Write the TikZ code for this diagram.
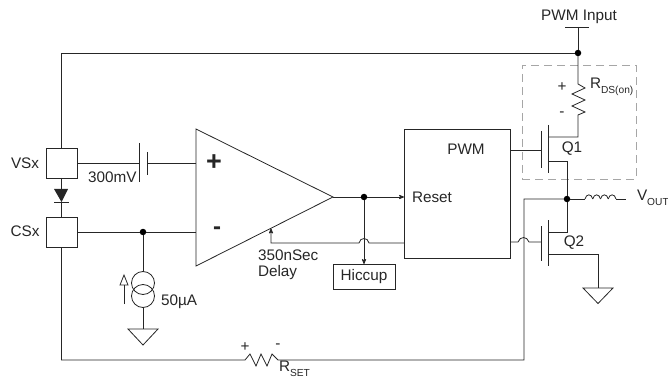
\documentclass[tikz,border=0pt]{standalone}
\usepackage{fontspec}
\setmainfont{Liberation Sans}
\usepackage{tikz}
\usetikzlibrary{arrows}
\newcommand{\subtxt}[1]{\raisebox{-0.55ex}{\fontsize{10.2}{12}\selectfont #1}}

\begin{document}
\begin{tikzpicture}[x=1pt,y=-1pt,>=stealth',line width=0.8pt,black!85,font=\fontsize{15.3}{18}\selectfont]
\tikzstyle{every node}=[inner sep=0pt,outer sep=0pt,text=black!85]
\tikzstyle{pin}=[draw,minimum width=31,minimum height=30]
\tikzstyle{dot}=[circle,fill=black,minimum size=6.5]
\tikzstyle{label}=[anchor=west]
\tikzstyle{fet}=[line width=0.9pt]
\tikzstyle{csrc}=[draw,circle,minimum size=23]
\useasboundingbox (0,0) rectangle (668,379);

% blocks
\node[pin] (VS) at (61.5,163) {};
\node[pin] (CS) at (61.5,232) {};
\node[draw,minimum width=106,minimum height=129] (PWM) at (457,193.5) {};
\node[draw,minimum width=62,minimum height=25] (HIC) at (364,276.5) {Hiccup};
\node[draw,dashed,dash pattern=on 8pt off 5pt,black!35,minimum width=114,minimum height=114] (QBOX) at (579,122) {};
\coordinate (A1) at (196,129);
\coordinate (A2) at (196,266);
\coordinate (A3) at (333,197);
\draw (A1)--(A3)--(A2)--cycle;

% junctions
\node[dot] (J1) at (578,53) {};
\node[dot] (J2) at (143,232) {};
\node[dot] (J3) at (364,197) {};
\node[dot] (J4) at (567,199) {};
\coordinate (PIN) at (578,27);
\draw (565,27)--(589,27);

% supply to Q1
\draw (PIN)--(J1);
\draw (J1)--(61.5,53)--(VS.north);
\coordinate (R1a) at (578,84);
\coordinate (R1b) at (578,115);
\draw (J1)--(R1a)--(585,88)--(572,94)--(585,100)--(572,106)--(585,112)--(R1b)--(578,137)--(548,137);

% Q1
\draw[fet] (548,125)--(548,173);
\draw[fet] (541,131)--(541,168);
\draw (510,150)--(541,150);
\draw (548,161)--(567,161)--(J4);

% Q2
\draw[fet] (548,220)--(548,266);
\draw[fet] (541,226)--(541,261);
\draw (J4)--(567,232)--(548,232);
\draw (510,242)--(518,242) .. controls (520,236) and (527,236) .. (529,242)--(541,242);
\coordinate (G2) at (598,288);
\draw (548,254)--(598,254)--(G2);
\draw (G2)--++(15,0)--++(-15,15.5)--++(-15,-15.5)--cycle;

% inductor
\coordinate (L1) at (585,199);
\draw (J4)--(L1);
\foreach \i in {0,1,2,3}
  \draw (585+\i*7.75,199) .. controls (586+\i*7.75,193.5) and (591.75+\i*7.75,193.5) .. (592.75+\i*7.75,199);
\draw (616,199)--(626,199);

% sense resistor
\coordinate (R2a) at (245,360);
\coordinate (R2b) at (278,360);
\draw (CS.south)--(61.5,360)--(R2a)--(250,354)--(256,366)--(261,354)--(267,366)--(272,354)--(R2b)--(524,360)--(524,199)--(J4);

% diode
\draw (VS.south)--(61.5,189);
\draw (61.5,202)--(CS.north);
\fill (54,189)--(68,189)--(61.5,202)--cycle;
\draw (54,202)--(69,202);

% amp inputs
\draw (VS.east)--(139,163);
\draw[fet] (139,143)--(139,182);
\draw[fet] (147,152)--(147,175);
\draw (147,163)--(196,163);
\draw (CS.east)--(J2);
\draw (J2)--(196,232);

% current source
\node[csrc] (I1) at (143,283) {};
\node[csrc] (I2) at (143,296) {};
\coordinate (G1) at (143,329);
\draw (J2)--(I1.north);
\draw (I2.south)--(G1);
\draw (G1)--++(15,0)--++(-15,16)--++(-15,-16)--cycle;
\draw (124,304)--(124,285);
\draw (120,285)--(128,285)--(124,275)--cycle;

% amp output and feedback
\draw (A3)--(J3);
\draw[->] (J3)--(PWM.west|-J3);
\draw[->] (J3)--(HIC.north);
\draw[->] (PWM.west|-0,243)--(369,243) .. controls (368,237) and (360,237) .. (359,243)--(271,243)--(271,228.5);

% labels
\node at (579,17) {PWM Input};
\node[label] at (11,163) {VSx};
\node[label] at (10.5,231.5) {CSx};
\node[label] at (88,177) {300mV};
\node[label] at (161,302) {50µA};
\node[label] at (412,197) {Reset};
\node at (466,149) {PWM};
\node[label] at (258,255) {350nSec};
\node[label] at (258,273) {Delay};
\node at (572,149) {Q1};
\node at (574,243) {Q2};
\node[label] at (590,87) {R\subtxt{DS(on)}};
\node[label] at (637,198) {V\subtxt{OUT}};
\node[label] at (279,369) {R\subtxt{SET}};
\node at (562,87) {+};
\node at (562,114) {-};
\node at (245,347) {+};
\node at (278,346) {-};
\node at (214,163) {\fontsize{27}{30}\selectfont\bfseries +};
\node at (217,231) {\fontsize{24}{30}\selectfont\bfseries -};
\end{tikzpicture}
\end{document}
